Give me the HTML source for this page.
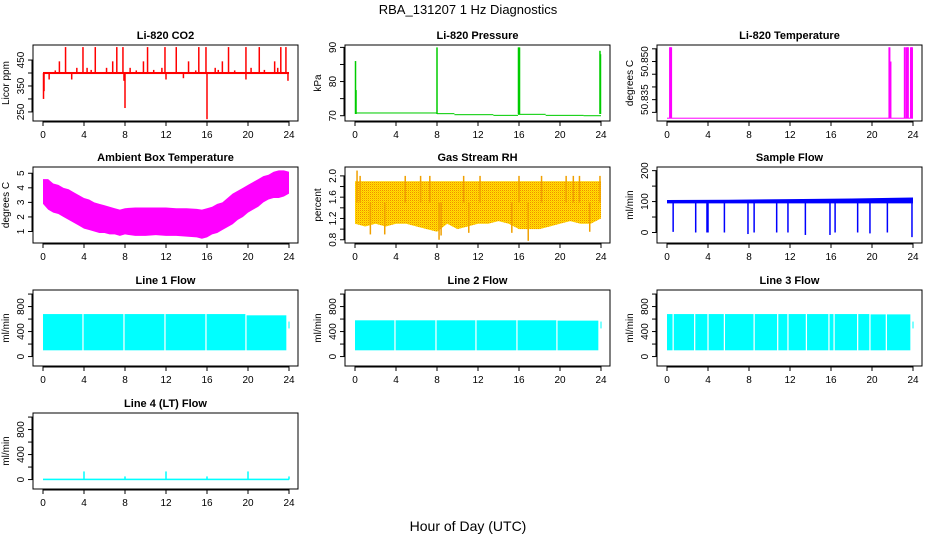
<!DOCTYPE html>
<html><head><meta charset="utf-8"><style>
body{margin:0;background:#fff}
svg{display:block;font-family:"Liberation Sans",Arial,sans-serif}
</style></head><body>
<svg id="c" width="936" height="540" viewBox="0 0 936 540">
<defs>
<pattern id="rhpat" width="2" height="2" patternUnits="userSpaceOnUse">
<rect width="2" height="2" fill="#ffe400"/><rect width="1" height="1" fill="#f28a00"/><rect x="1" y="1" width="1" height="1" fill="#ffc000"/>
</pattern>
</defs>
<text x="468" y="14" text-anchor="middle" font-size="13">RBA_131207  1 Hz Diagnostics</text>
<text x="468" y="531" text-anchor="middle" font-size="14">Hour of Day (UTC)</text>
</svg>
<script>
// ---- data ----
const xTicks=[0,4,8,12,16,20,24];
// CO2
const co2Base=[396,404];
const co2SpikeT=[0.05,0.1,2.2,3.9,5.1,7.2,7.8,10.2,11.9,13.0,15.2,15.9,18.1,19.8,21.1,23.2,23.7,1.6,6.8,9.8,14.2,17.5,22.6,3.3,4.3,6.2,8.5,11.6,16.8,20.3,22.9,0.6,2.8,7.9,8.0,12.0,13.7,16.0,19.8,23.9,1.2,4.7,9.1,10.8,14.9,17.1,18.7,21.6];
const co2SpikeV=[300,330,500,500,500,500,500,500,500,500,500,500,500,500,500,500,500,445,445,445,445,445,445,420,420,420,420,420,420,420,420,375,375,370,265,375,380,222,375,370,410,412,410,412,410,412,410,412];
const co2Ticks=[250,300,350,400,450];const co2Labels=["250","","350","","450"];
// Pressure
const presSegT=[0,8,9.7,13.5,15.9,18.6,22.3,24];
const presSegV=[70.8,70.6,70.3,70.1,70.4,70.1,70.0];
const presSpikeT=[0.05,0.1,8.0,15.95,16.0,16.05,23.9,23.95];
const presSpikeV=[86,77.5,90,90,90,90,89,88];
const presTicks=[70,75,80,85,90];const presLabels=["70","","80","","90"];
// Temperature
const tempBase=50.8277;
const tempSpikeT=[0.3,0.4,21.7,21.8,23.2,23.4,23.5,23.8,23.9];
const tempSpikeV=[50.8556,50.8556,50.8556,50.850,50.8556,50.8556,50.8556,50.8556,50.8556];
const tempTicks=[50.830,50.835,50.840,50.845,50.850,50.855];const tempLabels=["","50.835","","","50.850",""];
// Ambient box temperature (half-hourly envelope)
const ambT=[0,0.5,1,1.5,2,2.5,3,3.5,4,4.5,5,5.5,6,6.5,7,7.5,8,9,10,11,12,13,14,15,15.5,16,16.5,17,17.5,18,18.5,19,19.5,20,20.5,21,21.5,22,22.5,23,23.5,24];
const ambLow=[2.9,2.5,2.3,2.2,2.0,1.8,1.6,1.4,1.2,1.1,1.0,0.9,0.9,0.8,0.8,0.7,0.8,0.7,0.7,0.75,0.7,0.7,0.65,0.6,0.5,0.6,0.8,0.9,1.1,1.3,1.5,1.8,2.0,2.3,2.5,2.7,3.0,3.2,3.3,3.3,3.4,3.6];
const ambHigh=[4.6,4.6,4.3,4.2,4.0,3.9,3.7,3.5,3.3,3.2,3.0,2.9,2.8,2.7,2.6,2.5,2.6,2.65,2.65,2.65,2.65,2.6,2.6,2.55,2.5,2.6,2.7,2.9,3.0,3.3,3.6,3.8,4.0,4.2,4.4,4.6,4.8,4.9,5.1,5.2,5.2,5.1];
const ambTicks=[1,2,3,4,5];const ambLabels=["1","2","3","4","5"];
// RH
const rhT=[0,1,2,3,4,5,6,7,8,9,10,11,12,13,14,15,16,17,18,19,20,21,22,23,24];
const rhLow=[1.1,1.05,1.1,1.05,1.1,1.1,1.05,1.0,0.95,1.1,1.0,1.05,1.1,1.1,1.15,1.1,1.0,1.0,1.0,1.05,1.1,1.15,1.1,1.1,1.2];
const rhHigh=1.9;
const rhSpikeT=[0.2,0.5,1.5,2.9,4.9,6.4,7.3,8.2,8.4,10.6,11.1,12.2,15.3,16.0,16.9,18.2,20.6,21.3,21.9,22.9,23.9];
const rhSpikeV=[2.1,2.0,0.9,0.9,2.0,2.0,2.0,0.8,0.88,2.0,0.93,2.0,0.93,2.0,0.78,2.0,2.0,2.0,2.0,0.95,2.0];
const rhTicks=[0.8,1.0,1.2,1.4,1.6,1.8,2.0];const rhLabels=["0.8","","1.2","","1.6","","2.0"];
// Sample flow
const sfLow=94;const sfHighT=[0,6,12,18,24];const sfHighV=[105,106,108,110,113];
const sfDropT=[0.6,2.8,3.9,4.0,5.6,7.9,8.5,10.7,11.8,13.5,15.9,16.4,18.6,19.8,21.5,23.9];
const sfDropV=[2,0,0,0,0,-5,0,0,0,-8,-8,0,0,-3,0,-15];
const sfTicks=[0,50,100,150,200];const sfLabels=["0","","100","","200"];
// Line flows
const flowTicks=[0,200,400,600,800,1000];const flowLabels=["0","","400","","800",""];
const l1Top=[680,680,680,680,680,660];const l1Gaps=[3.9,7.9,11.9,15.9,19.8];const l1End=23.8;
const l2Top=[580,580,580,580,580,575];const l2Gaps=[3.9,7.9,11.8,15.8,19.7];const l2End=23.8;
const l3Top=[680,680,680,680,680,675];const l3Gaps=[0.6,2.7,4.0,5.6,8.5,10.8,11.8,13.6,15.8,16.3,18.6,19.8,21.4];const l3End=23.8;
const flowLow=100;
const l4SpikeT=[4,8,12,16,20,24];const l4SpikeV=[130,50,130,50,130,50];

// ---- layout ----
const NS="http://www.w3.org/2000/svg";
const svg=document.getElementById('c');
const colL=[33,345,657],rowT=[45,167,290,413],W=265,H=76;
function el(tag,attrs,parent){const e=document.createElementNS(NS,tag);for(const k in attrs)e.setAttribute(k,attrs[k]);(parent||svg).appendChild(e);return e;}
function panel(ci,ri,title,ylab,dom,ticks,labels,name){
  const L=colL[ci],T=rowT[ri];
  const g=el('g',{});
  
  
  const xs=t=>L+10+t*246/24;
  const ys=v=>T+H-(v-dom[0])/(dom[1]-dom[0])*H;
  const t=el('text',{x:L+W/2,y:T-6,'text-anchor':'middle','font-size':11,'font-weight':'bold'},g);t.textContent=title;
  
  
  const yl=el('text',{transform:`translate(${L-24},${T+H/2}) rotate(-90)`,'text-anchor':'middle','font-size':10},g);yl.textContent=ylab;
  
  
  const data=el('g',{},g);
  
  
  const b=el('rect',{x:L,y:T,width:W,height:H,fill:'none',stroke:'#000','stroke-width':1},g);
  
  
  const xa=el('g',{},g);
  
  
  el('line',{x1:xs(0),x2:xs(24),y1:T+H+1,y2:T+H+1,stroke:'#000'},xa);
  xTicks.forEach(v=>{el('line',{x1:xs(v),x2:xs(v),y1:T+H,y2:T+H+5,stroke:'#000'},xa);
    const tx=el('text',{x:xs(v),y:T+H+17,'text-anchor':'middle','font-size':10},xa);tx.textContent=v;});
  const ya=el('g',{},g);
  
  
  el('line',{x1:L-1,x2:L-1,y1:ys(ticks[0]),y2:ys(ticks[ticks.length-1]),stroke:'#000'},ya);
  ticks.forEach((v,i)=>{el('line',{x1:L-5,x2:L,y1:ys(v),y2:ys(v),stroke:'#000'},ya);
    if(labels[i]){const tx=el('text',{transform:`translate(${L-9},${ys(v)}) rotate(-90)`,'text-anchor':'middle','font-size':10},ya);tx.textContent=labels[i];}});
  return {xs,ys,g:data};
}
function vline(p,t,a,b,c,w){el('line',{x1:p.xs(t),x2:p.xs(t),y1:p.ys(a),y2:p.ys(b),stroke:c,'stroke-width':w||1.5},p.g);}
function band(p,t0,t1,lo,hi,c){el('rect',{x:p.xs(t0),y:p.ys(hi),width:p.xs(t1)-p.xs(t0),height:p.ys(lo)-p.ys(hi),fill:c},p.g);}

// CO2
let p=panel(0,0,'Li-820 CO2','Licor ppm',[215,508],co2Ticks,co2Labels,'co2');
band(p,0,24,co2Base[0],co2Base[1],'#f00');
co2SpikeT.forEach((t,i)=>vline(p,t,400,co2SpikeV[i],'#f00',1.5));
// Pressure
p=panel(1,0,'Li-820 Pressure','kPa',[68.45,90.7],presTicks,presLabels,'pressure');
presSegV.forEach((v,i)=>band(p,presSegT[i],presSegT[i+1],v-0.15,v+0.15,'#0c0'));
presSpikeT.forEach((t,i)=>vline(p,t,70.5,presSpikeV[i],'#0c0',1.5));
// Temperature
p=panel(2,0,'Li-820 Temperature','degrees C',[50.8266,50.8565],tempTicks,tempLabels,'temperature');
band(p,0,24,tempBase-0.0002,tempBase+0.0002,'#f0f');
tempSpikeT.forEach((t,i)=>vline(p,t,tempBase,tempSpikeV[i],'#f0f',2));
// Ambient
p=panel(0,1,'Ambient Box Temperature','degrees C',[0.21,5.43],ambTicks,ambLabels,'ambient-temp');
{let pts=ambT.map((t,i)=>p.xs(t)+','+p.ys(ambHigh[i])).concat(ambT.slice().reverse().map((t,j)=>p.xs(t)+','+p.ys(ambLow[ambT.length-1-j])));
el('polygon',{points:pts.join(' '),fill:'#f0f'},p.g);}
// RH
p=panel(1,1,'Gas Stream RH','percent',[0.739,2.167],rhTicks,rhLabels,'gas-rh');
{let pts=rhT.map(t=>p.xs(t)+','+p.ys(rhHigh)).concat(rhT.slice().reverse().map((t,j)=>p.xs(t)+','+p.ys(rhLow[rhT.length-1-j])));
el('polygon',{points:pts.join(' '),fill:'url(#rhpat)'},p.g);}
rhSpikeT.forEach((t,i)=>vline(p,t,1.5,rhSpikeV[i],'#f0a000',1.5));
// Sample flow
p=panel(2,1,'Sample Flow','ml/min',[-34,211.8],sfTicks,sfLabels,'sample-flow');
{let pts=sfHighT.map((t,i)=>p.xs(t)+','+p.ys(sfHighV[i])).concat([p.xs(24)+','+p.ys(sfLow),p.xs(0)+','+p.ys(sfLow)]);
el('polygon',{points:pts.join(' '),fill:'#00f'},p.g);}
sfDropT.forEach((t,i)=>vline(p,t,100,sfDropV[i],'#00f',1.5));
// Line flows
function flowPanel(ci,ri,title,top,gaps,end,name){
  const q=panel(ci,ri,title,'ml/min',[-151,1065],flowTicks,flowLabels,name);
  const edges=[0].concat(gaps).concat([end]);
  for(let i=0;i<edges.length-1;i++){const a=edges[i]+(i?0.06:0),b=edges[i+1]-0.06;
    const tp=top[Math.min(5,Math.floor((a+b)/2/4))];band(q,a,b,flowLow,tp,'#0ff');}
  band(q,23.95,24.05,450,560,'#0ff');
  return q;
}
flowPanel(0,2,'Line 1 Flow',l1Top,l1Gaps,l1End,'line1-flow');
flowPanel(1,2,'Line 2 Flow',l2Top,l2Gaps,l2End,'line2-flow');
flowPanel(2,2,'Line 3 Flow',l3Top,l3Gaps,l3End,'line3-flow');
p=panel(0,3,'Line 4 (LT) Flow','ml/min',[-151,1065],flowTicks,flowLabels,'line4-flow');
band(p,0,24,-10,15,'#0ff');
l4SpikeT.forEach((t,i)=>vline(p,t,0,l4SpikeV[i],'#0ff',1.5));
</script>
</body></html>
